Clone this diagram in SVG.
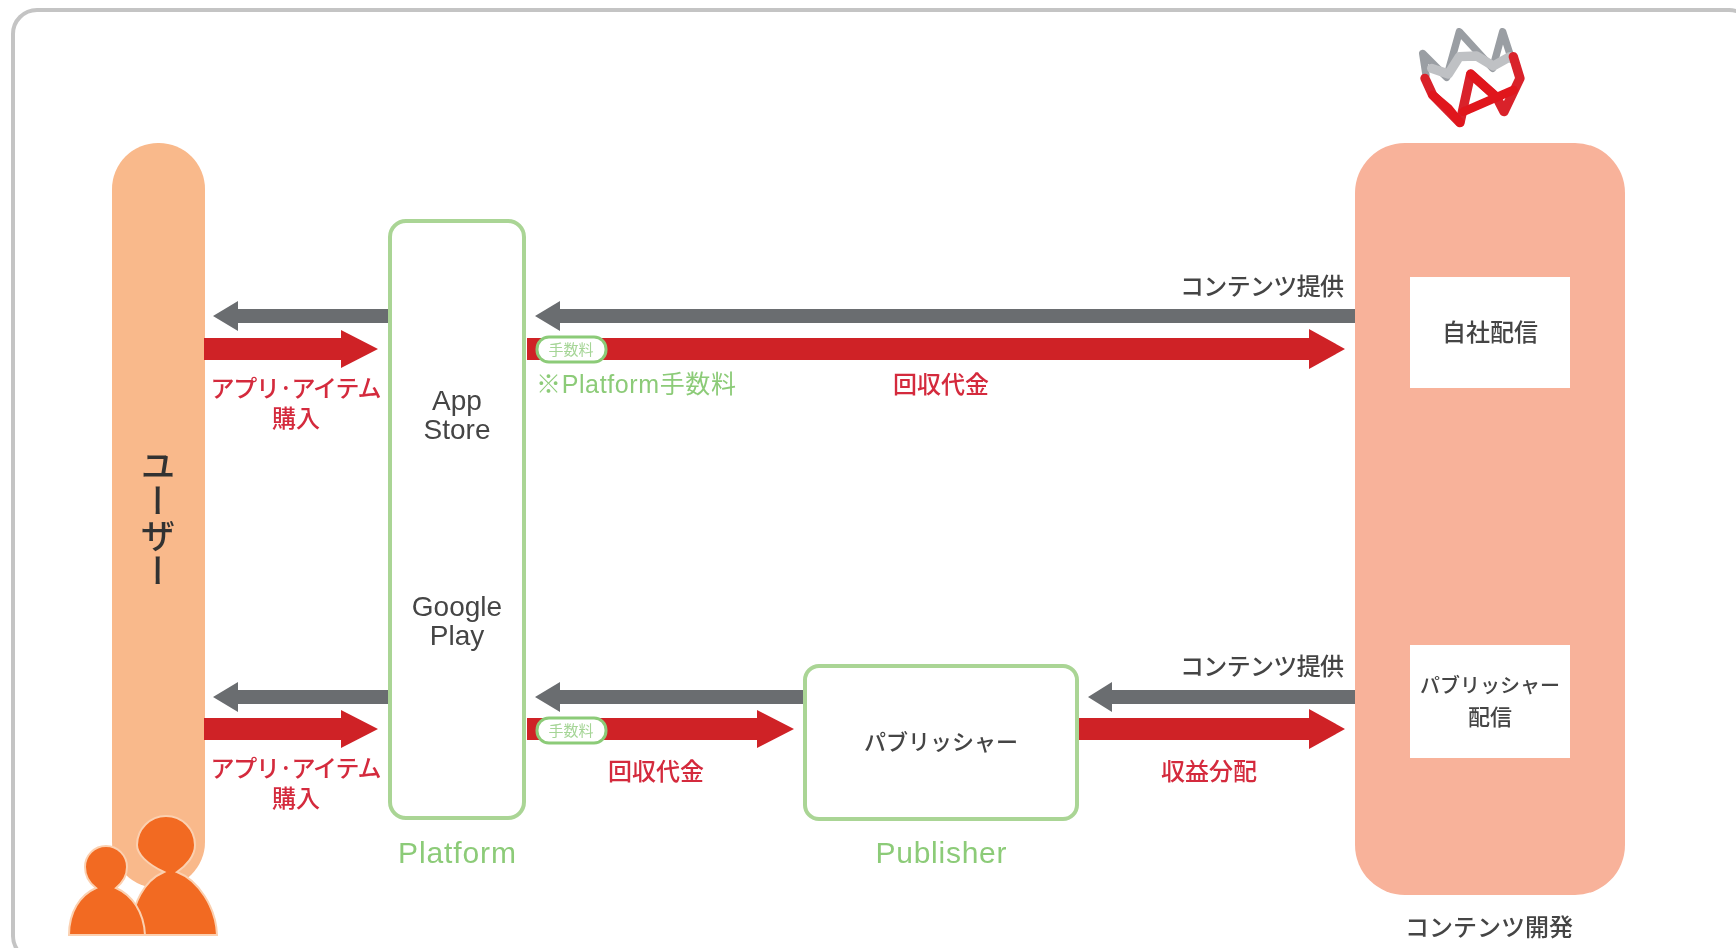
<svg xmlns="http://www.w3.org/2000/svg" width="1736" height="948" viewBox="0 0 1736 948">
<style>
text{font-family:"Liberation Sans","Noto Sans CJK JP",sans-serif;text-anchor:middle}
.j{font-family:"Noto Sans CJK JP",sans-serif}
.d{fill:#444;font-size:24px;font-weight:500}
.l{fill:#444;font-size:28px}
.r{fill:#d42a3c;font-size:24px;font-family:"Noto Sans CJK JP",sans-serif;font-weight:500}
.g{fill:#8ccb78;font-size:30px}
.box{fill:#fff;stroke:#aad595;stroke-width:4}
.gray{fill:#6b6d70}
.red{fill:#cf2027}
.wb{fill:#fff}
</style>
<defs><filter id="soft" x="-2%" y="-2%" width="104%" height="104%"><feGaussianBlur stdDeviation="0.7"/></filter></defs>
<rect width="1736" height="948" fill="#fff"/>
<rect id="card" x="13" y="10" width="1740" height="950" rx="24" fill="#fff" stroke="#c4c4c4" stroke-width="4"/>
<g filter="url(#soft)">
<g id="user">
<rect x="112" y="143" width="93" height="745" rx="46" fill="#f9b98b"/>
<text class="j" x="158" y="518" font-size="35" font-weight="500" fill="#333" style="writing-mode:vertical-rl">ユーザー</text>
<g fill="#f26a21" stroke="#fbd0b0" stroke-width="2">
<path d="M131 935C131 903 145 880 164 872C147 864 137 854 137 845A29 29 0 1 1 195 845C195 856 186 866 177 872C198 880 216 907 217 935Z"/>
<path d="M69 935C69 912 80 895 96 888C88 882 85 875 85 867A21 21 0 1 1 127 867C127 875 122 883 116 888C132 895 144 912 145 935Z"/>
</g>
</g>
<g id="connectors">
<path class="gray" d="M389 309H238V301L213 316L238 331V323H389Z"/>
<path class="red" d="M204 338H341V330L378 349L341 368V360H204Z"/>
<path class="gray" d="M1355 309H560V301L535 316L560 331V323H1355Z"/>
<path class="red" d="M527 338H1309V329L1345 349L1309 369V360H527Z"/>
<path class="gray" d="M389 690H238V682L213 697L238 712V704H389Z"/>
<path class="red" d="M204 718H341V710L378 729L341 748V740H204Z"/>
<path class="gray" d="M805 690H560V682L535 697L560 712V704H805Z"/>
<path class="red" d="M527 718H757V710L794 729L757 748V740H527Z"/>
<path class="gray" d="M1355 690H1112V682L1088 697L1112 712V704H1355Z"/>
<path class="red" d="M1079 718H1309V709L1345 729L1309 749V740H1079Z"/>
</g>
<g id="platform">
<rect class="box" x="390" y="221" width="134" height="597" rx="16"/>
<text class="l" x="457" y="410">App</text>
<text class="l" x="457" y="439">Store</text>
<text class="l" x="457" y="616">Google</text>
<text class="l" x="457" y="645">Play</text>
<text class="g" x="457" y="863" textLength="118">Platform</text>
</g>
<g id="fee-top">
<rect x="537" y="337" width="69" height="25" rx="12" fill="#fff" stroke="#8ccb78" stroke-width="3"/>
<text class="j" x="571" y="355" font-size="15" fill="#a5d596">手数料</text>
</g>
<g id="fee-bottom">
<rect x="537" y="718" width="69" height="25" rx="12" fill="#fff" stroke="#8ccb78" stroke-width="3"/>
<text class="j" x="571" y="736" font-size="15" fill="#a5d596">手数料</text>
</g>
<g id="publisher">
<rect class="box" x="805" y="666" width="272" height="153" rx="14"/>
<text class="j d" x="941" y="750" style="font-size:22px">パブリッシャー</text>
<text class="g" x="941" y="863" textLength="131">Publisher</text>
</g>
<g id="developer">
<rect x="1355" y="143" width="270" height="752" rx="50" fill="#f8b29a"/>
<rect class="wb" x="1410" y="277" width="160" height="111"/>
<rect class="wb" x="1410" y="645" width="160" height="113"/>
<text class="j d" x="1490" y="341">自社配信</text>
<text class="j d" x="1490" y="693" style="font-size:20px">パブリッシャー</text>
<text class="j d" x="1490" y="725" style="font-size:22px">配信</text>
<text class="j d" x="1489" y="936">コンテンツ開発</text>
</g>
<g id="logo" transform="translate(1300 0) scale(.3333)" fill="none" stroke-linejoin="round" stroke-linecap="round">
<path d="M378 225L368 160L440 232L478 95L578 205L608 95L635 178" stroke="#9a9ea3" stroke-width="22"/>
<path d="M395 205L445 222L478 170L530 168L580 198L630 170" stroke="#bfc1c4" stroke-width="28"/>
<path d="M640 170L660 235L612 335L590 292L512 222L480 368L398 285L375 235" stroke="#d9202b" stroke-width="28"/>
<path d="M480 368L445 325L398 285M490 335L590 292L512 222M590 292L640 270" stroke="#e0141f" stroke-width="26"/>
</g>
<g id="labels">
<text class="j d" x="1262" y="295" textLength="164">コンテンツ提供</text>
<text class="j d" x="1262" y="675" textLength="164">コンテンツ提供</text>
<text class="r" x="296" y="397" textLength="171">アプリ·アイテム</text>
<text class="r" x="296" y="427">購入</text>
<text class="r" x="296" y="777" textLength="171">アプリ·アイテム</text>
<text class="r" x="296" y="807">購入</text>
<text x="636" y="393" font-size="25" fill="#8ccb78" textLength="200">※Platform手数料</text>
<text class="r" x="941" y="393">回収代金</text>
<text class="r" x="656" y="780">回収代金</text>
<text class="r" x="1209" y="780">収益分配</text>
</g>
</g>
</svg>
